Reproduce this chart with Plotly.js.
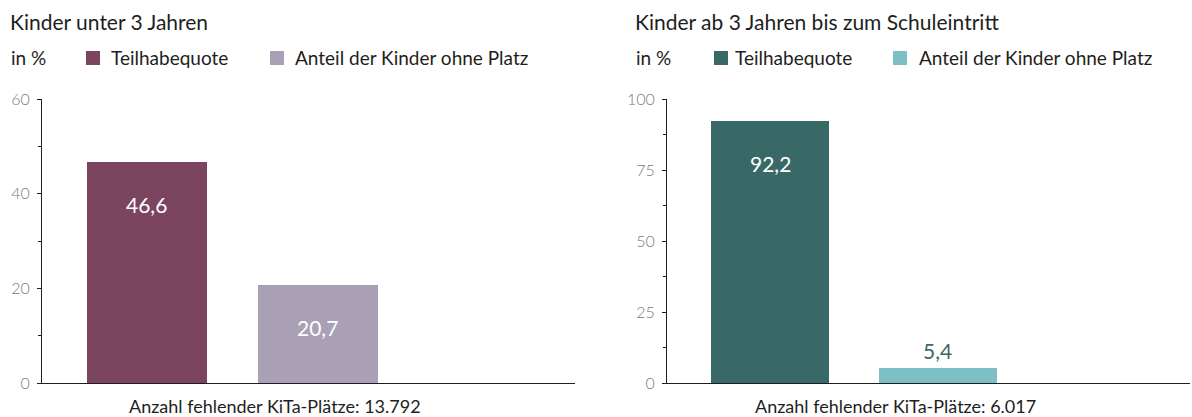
<!DOCTYPE html>
<html>
<head>
<meta charset="utf-8">
<script src="https://cdn.plot.ly/plotly-3.0.1.min.js"></script>
<style>html,body{margin:0;padding:0;background:#fff;}#chart{width:1192px;height:417px;}</style>
</head>
<body>
<div id="chart"></div>
<script>
// ---- data ----
const panelTitles = ["Kinder unter 3 Jahren", "Kinder ab 3 Jahren bis zum Schuleintritt"];
const seriesNames = ["Teilhabequote", "Anteil der Kinder ohne Platz"];
const valuesU3 = [46.6, 20.7];
const valuesU6 = [92.2, 5.4];
const footers = ["Anzahl fehlender KiTa-Plätze: 13.792", "Anzahl fehlender KiTa-Plätze: 6.017"];
const unitLabel = "in %";
const ticksU3 = [0, 20, 40, 60];
const ticksU6 = [0, 25, 50, 75, 100];
const colorsU3 = ["#7b4560", "#aaa0b6"];
const colorsU6 = ["#386967", "#7cc0c6"];

// ---- helpers ----
const W = 1192, H = 417;
const px = x => x / W;
const py = y => 1 - y / H;
const FONT = "Lato, 'Open Sans', sans-serif";
const fmt = v => v.toFixed(1).replace('.', ',');

const xpos = [0, 1];
const traces = [];
[[valuesU3, colorsU3, 'x', 'y'], [valuesU6, colorsU6, 'x2', 'y2']].forEach(([vals, cols, xa, ya]) => {
  vals.forEach((v, i) => {
    traces.push({
      type: 'bar', x: [xpos[i]], y: [v], width: 0.702,
      marker: {color: cols[i], line: {width: 0}},
      xaxis: xa, yaxis: ya, name: seriesNames[i], showlegend: false, hoverinfo: 'skip'
    });
  });
});

const annotations = [];
const shapes = [];
// value labels
function valueLabels(vals, cols, xref, yref) {
  vals.forEach((v, i) => {
    const inside = v > 10;
    annotations.push({
      xref: xref, yref: yref, x: xpos[i], y: v, text: fmt(v), showarrow: false,
      yanchor: 'middle', yshift: inside ? -42 : 17,
      font: {family: FONT, size: 21, color: inside ? '#ffffff' : colorsU6[0]}
    });
  });
}
valueLabels(valuesU3, colorsU3, 'x', 'y');
valueLabels(valuesU6, colorsU6, 'x2', 'y2');

// panel titles, unit labels, legends, footers
const panels = [
  {title: panelTitles[0], tx: 8, unitX: 9, sq: [86, 270], txt: [109, 293], cols: colorsU3, foot: footers[0], fx: 275},
  {title: panelTitles[1], tx: 633, unitX: 634, sq: [714, 893], txt: [733, 917], cols: colorsU6, foot: footers[1], fx: 895}
];
panels.forEach(p => {
  annotations.push({xref: 'paper', yref: 'paper', x: px(p.tx), y: py(21), xanchor: 'left', yanchor: 'middle',
    text: p.title, showarrow: false, font: {family: FONT, size: 21, color: '#1e1e1e'}});
  annotations.push({xref: 'paper', yref: 'paper', x: px(p.unitX), y: py(57), xanchor: 'left', yanchor: 'middle',
    text: unitLabel, showarrow: false, font: {family: FONT, size: 19, color: '#1e1e1e'}});
  seriesNames.forEach((n, i) => {
    shapes.push({type: 'rect', xref: 'paper', yref: 'paper', x0: px(p.sq[i]), x1: px(p.sq[i] + 14),
      y0: py(65), y1: py(51), fillcolor: p.cols[i], line: {width: 0}});
    annotations.push({xref: 'paper', yref: 'paper', x: px(p.txt[i]), y: py(57), xanchor: 'left', yanchor: 'middle',
      text: n, showarrow: false, font: {family: FONT, size: 19, color: '#1e1e1e'}});
  });
  annotations.push({xref: 'paper', yref: 'paper', x: px(p.fx), y: py(406), xanchor: 'center', yanchor: 'middle',
    text: p.foot, showarrow: false, font: {family: FONT, size: 18, color: '#1e1e1e'}});
});

const xCommon = {
  range: [-0.614, 2.503], showticklabels: false, ticks: '', showgrid: false, zeroline: false,
  showline: true, linecolor: '#1e1e1e', linewidth: 1, fixedrange: true
};
const yCommon = {
  showgrid: false, zeroline: false, showline: true, linecolor: '#1e1e1e', linewidth: 1,
  ticks: 'outside', ticklen: 4, tickwidth: 1, tickcolor: '#1e1e1e',
  tickfont: {family: FONT, size: 16, color: '#7a7a7a', weight: 300}, ticklabelstandoff: 4,
  tickmode: 'array', fixedrange: true
};

const layout = {
  width: W, height: H, margin: {l: 0, r: 0, t: 0, b: 0},
  paper_bgcolor: '#ffffff', plot_bgcolor: '#ffffff', showlegend: false, bargap: 0,
  xaxis: Object.assign({}, xCommon, {domain: [px(42), px(575)], anchor: 'y'}),
  xaxis2: Object.assign({}, xCommon, {domain: [px(667), px(1190)], anchor: 'y2'}),
  yaxis: Object.assign({}, yCommon, {domain: [py(383), py(99)], range: [0, 60], tickvals: ticksU3, anchor: 'x',
    minor: {tickvals: [10, 30, 50], ticks: 'outside', ticklen: 3, tickcolor: '#1e1e1e', showgrid: false}}),
  yaxis2: Object.assign({}, yCommon, {domain: [py(383), py(99)], range: [0, 100], tickvals: ticksU6, anchor: 'x2',
    minor: {tickvals: [12.5, 37.5, 62.5, 87.5], ticks: 'outside', ticklen: 3, tickcolor: '#1e1e1e', showgrid: false}}),
  annotations: annotations, shapes: shapes
};

Plotly.newPlot('chart', traces, layout, {displayModeBar: false, staticPlot: true});
</script>
</body>
</html>
